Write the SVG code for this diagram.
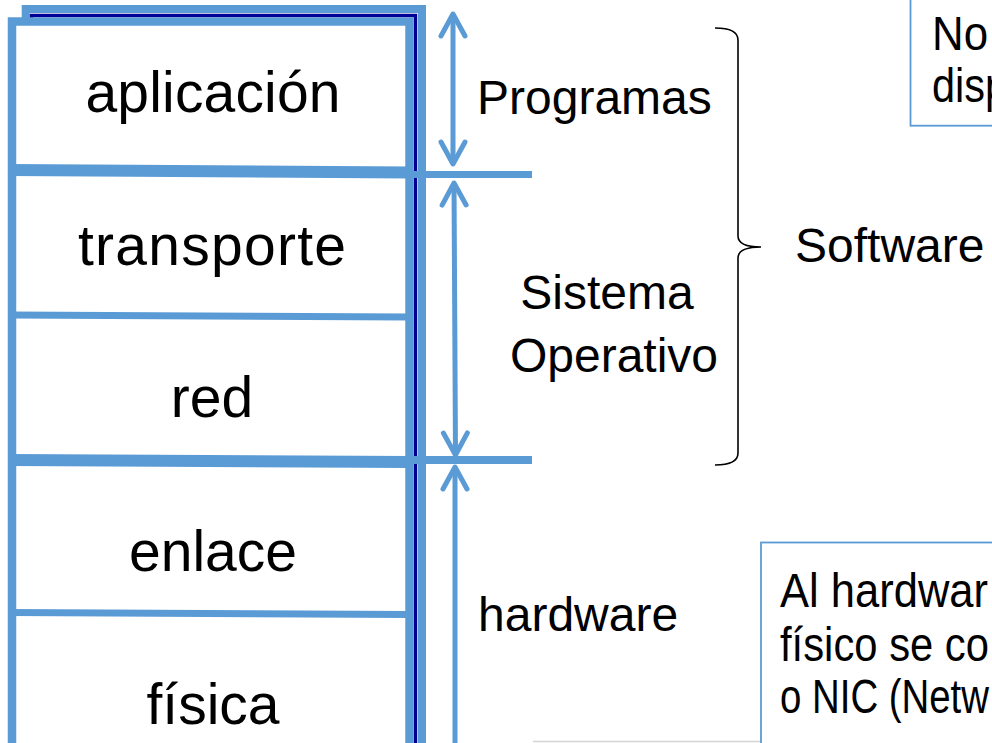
<svg xmlns="http://www.w3.org/2000/svg" width="992" height="743" viewBox="0 0 992 743">
  <style>
    .t { font-family: "Liberation Sans", Arial, sans-serif; fill: #000; }
    .layer { font-size: 57px; text-anchor: middle; }
    .lbl { font-size: 48px; }
    .blue { stroke: #5B9BD5; fill: none; }
    .arrow { stroke: #5B9BD5; stroke-width: 5; fill: none; marker-start: url(#chev); marker-end: url(#chev); }
    .note { fill: #fff; stroke: #5B9BD5; stroke-width: 1.8; }
  </style>
  <defs>
    <marker id="chev" markerUnits="userSpaceOnUse" markerWidth="40" markerHeight="40" viewBox="-30 -20 40 40" refX="0" refY="0" orient="auto-start-reverse">
      <path d="M -22 -12 L 0 0 L -22 12" fill="none" stroke="#5B9BD5" stroke-width="5" stroke-linecap="round" stroke-linejoin="round"/>
    </marker>
  </defs>
  <rect width="992" height="743" fill="#fff"/>

  <g id="stack">
    <rect x="25.7" y="9" width="396.3" height="900" fill="#fff" stroke="#5B9BD5" stroke-width="8"/>
    <rect x="31.5" y="15.5" width="384" height="900" fill="none" stroke="#000096" stroke-width="3.5"/>
    <rect x="12" y="21.5" width="397.5" height="900" fill="#fff" stroke="#5B9BD5" stroke-width="8.5"/>
  </g>

  <g id="dividers" class="blue">
    <line x1="8" y1="170" x2="411" y2="172.5" stroke-width="12"/>
    <line x1="10" y1="315" x2="408" y2="317" stroke-width="7"/>
    <line x1="8" y1="460" x2="411" y2="462" stroke-width="12"/>
    <line x1="10" y1="612.5" x2="408" y2="614.5" stroke-width="7"/>
  </g>

  <g id="aplicacion"><text class="t layer" x="213" y="112" textLength="255">aplicación</text></g>
  <g id="transporte"><text class="t layer" x="212" y="265" textLength="268">transporte</text></g>
  <g id="red"><text class="t layer" x="212" y="417">red</text></g>
  <g id="enlace"><text class="t layer" x="213" y="571">enlace</text></g>
  <g id="fisica"><text class="t layer" x="213" y="724">física</text></g>

  <g id="connectors">
    <line class="blue" x1="406" y1="174.5" x2="532" y2="174.5" stroke-width="7"/>
    <line class="blue" x1="406" y1="460" x2="532" y2="460" stroke-width="8"/>
    <line class="arrow" x1="453" y1="14" x2="453" y2="164"/>
    <line class="arrow" x1="454" y1="183" x2="455.5" y2="455"/>
    <line class="arrow" x1="455" y1="760" x2="455" y2="467" style="marker-start:none"/>
    <path d="M 715 28 Q 738 28 738 40 L 738 236 Q 738 247 761 247 Q 738 247 738 258 L 738 453 Q 738 465 715 465" fill="none" stroke="#000" stroke-width="1.6"/>
  </g>

  <g id="programas"><text class="t lbl" x="477" y="114">Programas</text></g>
  <g id="sistema-operativo">
    <text class="t lbl" x="607" y="309" text-anchor="middle">Sistema</text>
    <text class="t lbl" x="614" y="372" text-anchor="middle">Operativo</text>
  </g>
  <g id="software"><text class="t lbl" x="795" y="262">Software</text></g>
  <g id="hardware"><text class="t lbl" x="478" y="631">hardware</text></g>

  <g id="note-top">
    <rect class="note" x="910.5" y="-10" width="100" height="135.7"/>
    <text class="t lbl" x="932" y="50" textLength="56" lengthAdjust="spacingAndGlyphs">No</text>
    <text class="t lbl" x="932" y="102" textLength="76" lengthAdjust="spacingAndGlyphs">disp</text>
  </g>

  <g id="note-bottom">
    <line x1="533" y1="741.5" x2="761" y2="741.5" stroke="#D4D4D4" stroke-width="1.5"/>
    <rect class="note" x="761" y="542.5" width="260" height="230"/>
    <text class="t lbl" x="780" y="607" textLength="208" lengthAdjust="spacingAndGlyphs">Al hardwar</text>
    <text class="t lbl" x="780" y="661" textLength="209" lengthAdjust="spacingAndGlyphs">físico se co</text>
    <text class="t lbl" x="780" y="713" textLength="209" lengthAdjust="spacingAndGlyphs">o NIC (Netw</text>
  </g>
</svg>
